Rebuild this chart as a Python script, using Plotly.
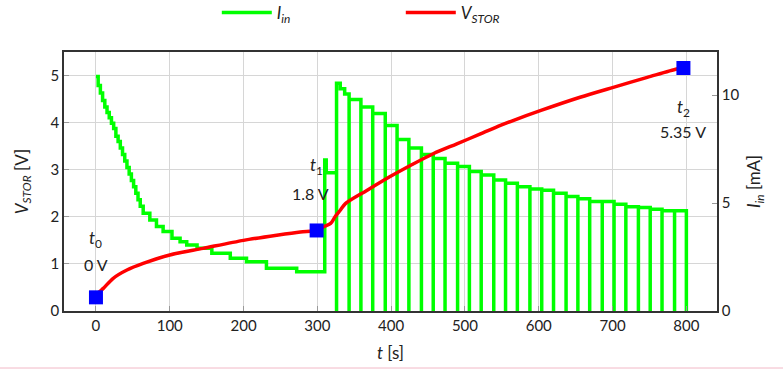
import plotly.graph_objects as go

# ---------------- data ----------------
# Input current I_in [mA] : charging phase (staircase decay), values start of each step
early_t = [0, 3, 6, 9, 12, 15, 18, 21, 24, 27, 30, 33, 36, 39, 42, 45, 48, 51, 54, 57, 60,
           64, 73, 82, 91, 103, 114, 123, 137, 157, 182, 204, 231, 272]
early_i = [10.86, 10.45, 10.1, 9.75, 9.45, 9.2, 8.95, 8.7, 8.45, 8.1, 7.85, 7.55, 7.25, 6.95,
           6.65, 6.35, 6.05, 5.76, 5.45, 5.15, 4.85,
           4.53, 4.22, 3.91, 3.68, 3.37, 3.21, 3.06, 2.91, 2.67, 2.44, 2.28, 1.98, 1.82]
# transition before the pulsed phase
trans_t = [310, 312]
trans_i = [7.0, 6.4]
# pulsed phase: times where current dips to zero, and level after each dip
pulse_t = [326, 343, 359, 375, 392, 408, 424, 441, 457, 473, 490, 506, 522, 539, 555,
           571, 588, 604, 620, 637, 653, 669, 686, 702, 718, 735, 751, 767, 784, 800]
pulse_i = [10.55, 9.8, 9.45, 9.15, 8.6, 7.95, 7.55, 7.25, 7.07, 6.84, 6.69, 6.46, 6.30, 6.07,
           5.92, 5.76, 5.65, 5.60, 5.45, 5.30, 5.20, 5.07, 5.07, 4.95, 4.83, 4.80, 4.72, 4.65,
           4.65, 0.0]
# small sub-steps inside the first pulse period
sub_t = [331, 337]
sub_i = [10.3, 10.05]

# Storage voltage V_STOR [V]
vstor_t = [0, 4, 10, 23, 42, 64, 100, 145, 200, 245, 277, 299, 310, 318, 324, 331, 338,
           367, 398, 426, 457, 489, 521, 548, 566, 603, 656, 701, 747, 787, 796]
vstor_v = [0.29, 0.40, 0.48, 0.69, 0.87, 1.01, 1.19, 1.33, 1.50, 1.61, 1.68, 1.71, 1.80, 1.86,
           2.00, 2.14, 2.28, 2.56, 2.85, 3.09, 3.34, 3.55, 3.76, 3.94, 4.05, 4.26, 4.54,
           4.75, 4.96, 5.14, 5.16]

# marked points
mark_t = [0, 299, 796]
mark_v = [0.29, 1.71, 5.16]
mark_lbl_t = ["<i>t</i><sub>0</sub>", "<i>t</i><sub>1</sub>", "<i>t</i><sub>2</sub>"]
mark_lbl_v = ["0 V", "1.8 V", "5.35 V"]

x_ticks = [0, 100, 200, 300, 400, 500, 600, 700, 800]
yl_ticks = [0, 1, 2, 3, 4, 5]
yr_ticks = [0, 5, 10]

# ---------------- build green step series ----------------
gx, gy = list(early_t), list(early_i)
gx += trans_t
gy += trans_i
for k, (t, lv) in enumerate(zip(pulse_t, pulse_i)):
    gx += [t, t]
    gy += [0.0, lv]
    if k == 0:
        gx += sub_t
        gy += sub_i

FONT = "Lato"
TXT = "#222"
fig = go.Figure()
fig.add_trace(go.Scatter(
    x=gx, y=gy, mode="lines", yaxis="y",
    line=dict(color="#00ff00", width=3.5, shape="hv"),
    name="<i>I</i><sub><i>in</i></sub>"))
fig.add_trace(go.Scatter(
    x=vstor_t, y=vstor_v, mode="lines", yaxis="y2",
    line=dict(color="#ff0000", width=3.5, shape="spline", smoothing=0.8),
    name="<i>V</i><sub><i>STOR</i></sub>"))
fig.add_trace(go.Scatter(
    x=mark_t, y=mark_v, mode="markers", yaxis="y2", showlegend=False,
    marker=dict(symbol="square", size=14, color="#0000ff", line=dict(width=0))))

# annotations near the marked points (pixel offsets from each marker)
lbl_shift_t = [(0, 58), (0, 64), (0, -40)]
lbl_shift_v = [(0, 33), (-6, 37), (0, -63)]
ann = []
for t, v, lt, lv, st, sv in zip(mark_t, mark_v, mark_lbl_t, mark_lbl_v, lbl_shift_t, lbl_shift_v):
    ann.append(dict(x=t, y=v, xref="x", yref="y2", text=lt, showarrow=False,
                    xshift=st[0], yshift=st[1], font=dict(size=17, family=FONT, color=TXT)))
    ann.append(dict(x=t, y=v, xref="x", yref="y2", text=lv, showarrow=False,
                    xshift=sv[0], yshift=sv[1], font=dict(size=16, family=FONT, color=TXT)))

axis_common = dict(showline=True, linecolor="#333", linewidth=1.5, ticks="inside", ticklen=5,
                   tickcolor="#999", zeroline=False, tickfont=dict(size=15, family=FONT, color=TXT))

fig.update_layout(
    width=783, height=369, margin=dict(l=64, r=66, t=52, b=58, autoexpand=False),
    paper_bgcolor="white", plot_bgcolor="white",
    font=dict(family=FONT, color=TXT),
    xaxis=dict(range=[-43.3, 841.5], tickvals=x_ticks, showgrid=True, gridcolor="#d6d6d6",
               gridwidth=1, mirror=True,
               title=dict(text="<i>t</i> [s]", font=dict(size=17, family=FONT), standoff=14),
               **axis_common),
    yaxis=dict(range=[0, 12], side="right", tickvals=yr_ticks, showgrid=False, mirror=True,
               title=dict(text="<i>I</i><sub><i>in</i></sub> [mA]", font=dict(size=17, family=FONT),
                          standoff=10),
               **axis_common),
    yaxis2=dict(range=[0, 5.5], side="left", overlaying="y", tickvals=yl_ticks, showgrid=True,
                gridcolor="#d6d6d6", gridwidth=1,
                title=dict(text="<i>V</i><sub><i>STOR</i></sub> [V]", font=dict(size=17, family=FONT),
                           standoff=18),
                **axis_common),
    legend=dict(orientation="h", x=0.234, xanchor="left", y=0.965, yanchor="middle",
                yref="container",
                font=dict(size=17, family=FONT, color=TXT), entrywidth=119, itemwidth=50,
                bgcolor="rgba(0,0,0,0)"),
    annotations=ann,
    shapes=[dict(type="line", xref="paper", yref="paper", x0=-0.1, x1=1.11, y0=-0.2201, y1=-0.2201,
                 line=dict(color="#f2b8c6", width=1))],
)

fig.write_html("out.html")
